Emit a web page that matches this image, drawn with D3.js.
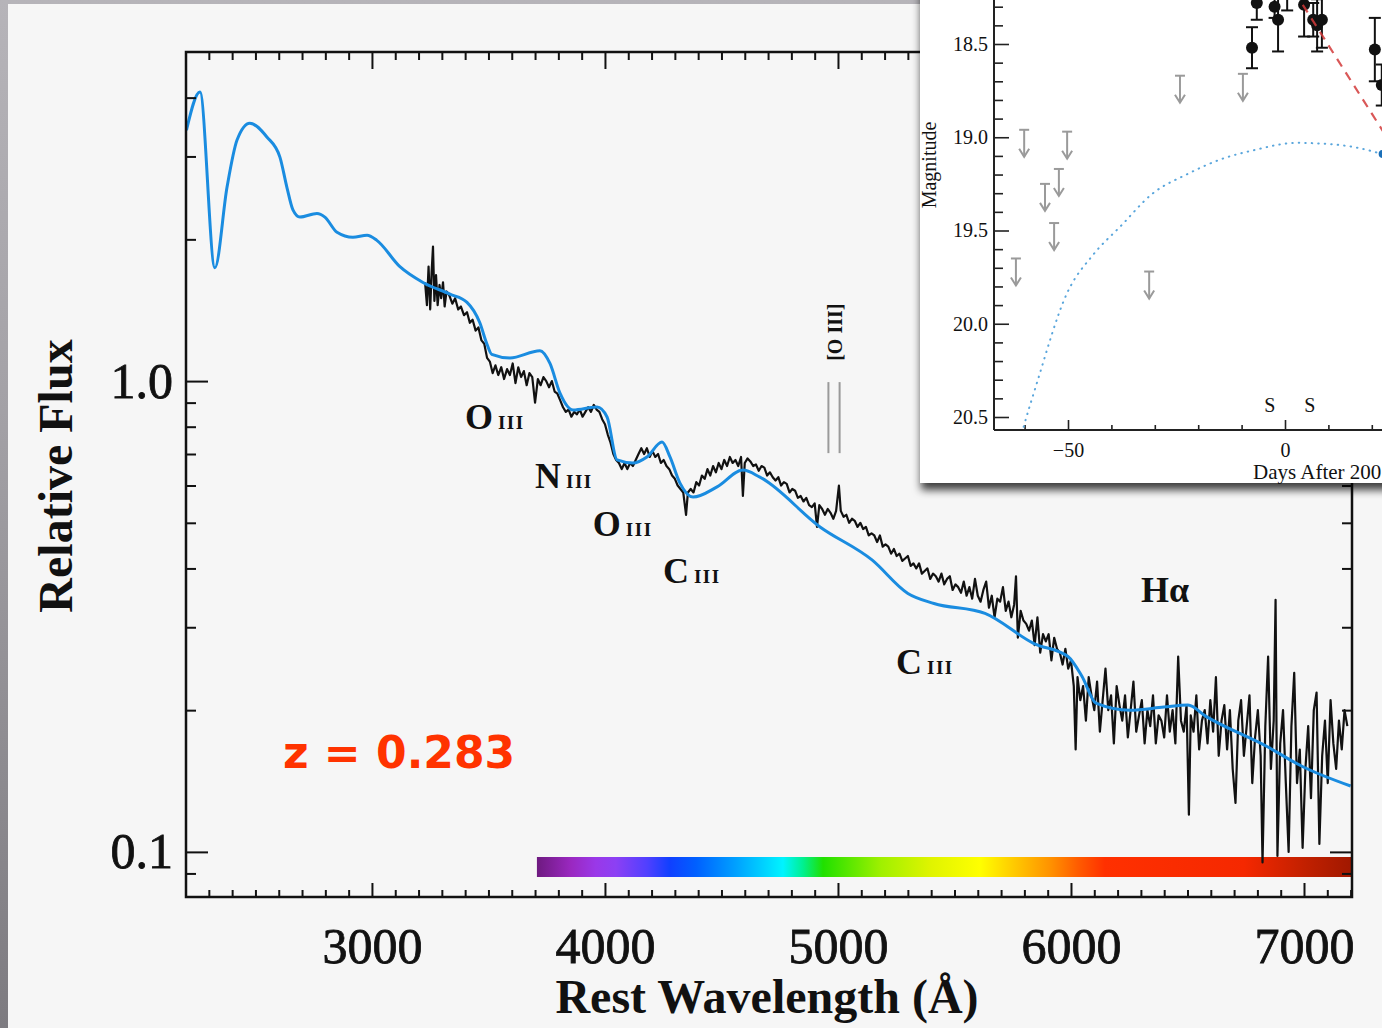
<!DOCTYPE html>
<html>
<head>
<meta charset="utf-8">
<script src="https://cdn.jsdelivr.net/npm/d3@7"></script>
<style>
html, body { margin: 0; padding: 0; background: #f6f6f6; overflow: hidden; }
svg { display: block; }
</style>
</head>
<body>
<div id="chart"></div>
<script>
// ---- Spectrum: smooth model (blue), wavelength in Angstrom / relative flux
var modelWave = [2204, 2262, 2326, 2378, 2421, 2476, 2549, 2605, 2635, 2661, 2691, 2764, 2798, 2850, 2918, 2979, 3021, 3120, 3219, 3335, 3408, 3463, 3493, 3514, 3592, 3721, 3764, 3807, 3863, 3966, 4009, 4052, 4120, 4180, 4245, 4279, 4322, 4378, 4481, 4592, 4665, 4923, 5146, 5300, 5412, 5631, 5841, 5987, 6047, 6107, 6253, 6399, 6502, 6579, 6845, 6991, 7200];
var modelFlux = [3.41, 4.11, 1.74, 2.58, 3.25, 3.53, 3.30, 2.99, 2.58, 2.31, 2.23, 2.27, 2.23, 2.07, 2.02, 2.04, 1.99, 1.75, 1.62, 1.53, 1.47, 1.33, 1.20, 1.14, 1.12, 1.16, 1.09, 0.943, 0.868, 0.881, 0.839, 0.680, 0.670, 0.690, 0.742, 0.690, 0.607, 0.567, 0.596, 0.647, 0.625, 0.490, 0.417, 0.354, 0.337, 0.321, 0.277, 0.260, 0.236, 0.207, 0.200, 0.203, 0.205, 0.194, 0.167, 0.152, 0.138];

// ---- Observed spectrum (black), [wavelength, flux]
var obsSpectrum = [
  [3228, 1.62], [3236, 1.45], [3243, 1.75], [3250, 1.42], [3256, 1.70], [3262, 1.93], [3268, 1.48], [3275, 1.68],
  [3282, 1.45], [3290, 1.60], [3297, 1.50], [3305, 1.62], [3312, 1.44], [3320, 1.55], [3332, 1.52], [3345, 1.46],
  [3357, 1.50], [3370, 1.42], [3382, 1.44], [3395, 1.38], [3408, 1.40], [3420, 1.33], [3432, 1.35], [3445, 1.28],
  [3457, 1.30], [3470, 1.22], [3482, 1.20], [3494, 1.12], [3506, 1.10], [3518, 1.04], [3530, 1.08], [3542, 1.03],
  [3555, 1.07], [3567, 1.01], [3580, 1.06], [3592, 1.03], [3604, 1.09], [3616, 0.99], [3628, 1.07], [3640, 1.02],
  [3652, 1.05], [3664, 0.98], [3676, 1.04], [3688, 1.02], [3700, 0.90], [3712, 1.01], [3724, 0.98], [3736, 1.02],
  [3748, 1.00], [3760, 0.97], [3772, 1.00], [3784, 0.95], [3796, 0.94], [3808, 0.91], [3820, 0.88], [3832, 0.86],
  [3844, 0.87], [3856, 0.84], [3868, 0.86], [3880, 0.85], [3892, 0.87], [3904, 0.84], [3916, 0.86], [3928, 0.88],
  [3940, 0.86], [3952, 0.89], [3964, 0.87], [3976, 0.86], [3988, 0.83], [4000, 0.81], [4012, 0.77], [4024, 0.74],
  [4036, 0.70], [4048, 0.68], [4060, 0.67], [4072, 0.65], [4084, 0.67], [4096, 0.65], [4108, 0.67], [4120, 0.66],
  [4132, 0.68], [4144, 0.70], [4156, 0.72], [4168, 0.70], [4180, 0.72], [4192, 0.69], [4204, 0.71], [4216, 0.69],
  [4228, 0.70], [4240, 0.67], [4252, 0.68], [4264, 0.66], [4276, 0.65], [4288, 0.63], [4300, 0.62], [4312, 0.60],
  [4324, 0.59], [4336, 0.58], [4348, 0.52], [4356, 0.58], [4368, 0.59], [4380, 0.58], [4392, 0.61], [4404, 0.60],
  [4416, 0.63], [4428, 0.62], [4440, 0.65], [4452, 0.63], [4464, 0.66], [4476, 0.64], [4488, 0.67], [4500, 0.65],
  [4512, 0.68], [4524, 0.66], [4536, 0.69], [4548, 0.67], [4560, 0.68], [4572, 0.66], [4584, 0.69], [4592, 0.57],
  [4600, 0.67], [4612, 0.685], [4624, 0.675], [4636, 0.66], [4648, 0.665], [4660, 0.645], [4672, 0.66], [4684, 0.655],
  [4696, 0.63], [4708, 0.64], [4720, 0.625], [4732, 0.615], [4744, 0.625], [4756, 0.60], [4768, 0.61], [4780, 0.605],
  [4792, 0.58], [4804, 0.59], [4816, 0.585], [4828, 0.565], [4840, 0.57], [4852, 0.555], [4864, 0.565], [4876, 0.545],
  [4888, 0.54], [4900, 0.55], [4910, 0.49], [4920, 0.545], [4932, 0.535], [4944, 0.52], [4956, 0.535], [4968, 0.525],
  [4980, 0.51], [4992, 0.53], [5004, 0.60], [5012, 0.53], [5024, 0.515], [5036, 0.52], [5048, 0.50], [5060, 0.51],
  [5072, 0.505], [5084, 0.49], [5096, 0.50], [5108, 0.485], [5120, 0.49], [5132, 0.47], [5144, 0.475], [5156, 0.47],
  [5168, 0.455], [5180, 0.47], [5192, 0.445], [5204, 0.45], [5216, 0.445], [5228, 0.43], [5240, 0.44], [5252, 0.425],
  [5264, 0.43], [5276, 0.415], [5288, 0.42], [5300, 0.425], [5312, 0.405], [5324, 0.41], [5336, 0.40], [5348, 0.41],
  [5360, 0.39], [5372, 0.395], [5384, 0.40], [5396, 0.38], [5408, 0.39], [5420, 0.385], [5432, 0.375], [5444, 0.39],
  [5456, 0.37], [5468, 0.38], [5480, 0.385], [5492, 0.36], [5504, 0.37], [5516, 0.365], [5528, 0.355], [5540, 0.375],
  [5552, 0.35], [5564, 0.365], [5576, 0.345], [5588, 0.38], [5600, 0.35], [5612, 0.34], [5624, 0.36], [5636, 0.375],
  [5648, 0.33], [5660, 0.35], [5672, 0.315], [5684, 0.345], [5696, 0.34], [5708, 0.365], [5720, 0.325], [5732, 0.34],
  [5744, 0.315], [5756, 0.335], [5764, 0.385], [5772, 0.285], [5784, 0.325], [5796, 0.31], [5808, 0.305], [5820, 0.295],
  [5832, 0.31], [5844, 0.275], [5856, 0.315], [5868, 0.265], [5880, 0.29], [5892, 0.28], [5904, 0.29], [5916, 0.255],
  [5928, 0.285], [5940, 0.27], [5952, 0.265], [5964, 0.25], [5976, 0.27], [5988, 0.245], [6000, 0.255], [6012, 0.225],
  [6020, 0.165], [6028, 0.235], [6040, 0.21], [6052, 0.225], [6064, 0.19], [6076, 0.235], [6088, 0.215], [6100, 0.20],
  [6112, 0.23], [6124, 0.18], [6136, 0.21], [6148, 0.245], [6160, 0.20], [6172, 0.215], [6184, 0.17], [6196, 0.225],
  [6208, 0.205], [6220, 0.19], [6232, 0.215], [6244, 0.175], [6256, 0.20], [6268, 0.23], [6280, 0.18], [6292, 0.195],
  [6304, 0.21], [6316, 0.17], [6328, 0.20], [6340, 0.185], [6352, 0.215], [6364, 0.17], [6376, 0.195], [6388, 0.19],
  [6400, 0.175], [6412, 0.215], [6424, 0.18], [6436, 0.20], [6448, 0.17], [6460, 0.26], [6472, 0.19], [6484, 0.18],
  [6496, 0.205], [6506, 0.12], [6514, 0.195], [6526, 0.18], [6538, 0.215], [6550, 0.165], [6562, 0.19], [6574, 0.20],
  [6586, 0.17], [6598, 0.21], [6610, 0.18], [6622, 0.235], [6634, 0.16], [6646, 0.19], [6658, 0.205], [6670, 0.165],
  [6682, 0.20], [6694, 0.15], [6706, 0.127], [6718, 0.19], [6730, 0.21], [6742, 0.16], [6754, 0.185], [6766, 0.215],
  [6778, 0.14], [6790, 0.175], [6802, 0.20], [6814, 0.16], [6822, 0.095], [6834, 0.185], [6846, 0.26], [6858, 0.15],
  [6870, 0.19], [6878, 0.343], [6886, 0.098], [6898, 0.17], [6910, 0.20], [6922, 0.14], [6934, 0.10], [6946, 0.185],
  [6958, 0.24], [6970, 0.14], [6982, 0.165], [6994, 0.102], [7006, 0.15], [7018, 0.185], [7030, 0.13], [7042, 0.20],
  [7054, 0.218], [7066, 0.104], [7078, 0.16], [7090, 0.19], [7102, 0.14], [7114, 0.21], [7126, 0.17], [7138, 0.15],
  [7150, 0.19], [7162, 0.165], [7174, 0.20], [7186, 0.185]
];

// ---- Axis ticks
var xMajor = [3000, 4000, 5000, 6000, 7000];
var yMajor = [0.1, 1.0];
var yMinor = [0.09, 0.2, 0.3, 0.4, 0.5, 0.6, 0.7, 0.8, 0.9, 2, 3, 4];

// ---- Line identifications [label, roman, wavelength, flux] (text anchor position)
var lineIds = [
  ["O", "III", 3399, 0.791],
  ["N", "III", 3700, 0.593],
  ["O", "III", 3948, 0.469],
  ["C", "III", 4249, 0.372],
  ["C", "III", 5249, 0.239],
  ["H\u03b1", "", 6300, 0.339]
];
var oiiiWave = [4959, 5007];

// ---- Visible spectrum colour bar (wavelength -> colour)
var barWave = [3708, 3854, 3960, 4047, 4181, 4279, 4391, 4560, 4764, 4850, 4936, 5185, 5400, 5610, 5760, 5916, 6030, 6146, 6742, 7013, 7206];
var barColor = ["#6e1a80", "#9a28c0", "#9a38e8", "#8c40f4", "#5040ff", "#1040ff", "#0060ff", "#00a0ff", "#00f4ff", "#00f090", "#20e000", "#a0f000", "#e0f400", "#ffff00", "#ffc800", "#ff9000", "#ff5c00", "#ff3000", "#f52800", "#c02000", "#a01800"];

// ---- Inset light curve
var detDays = [-7.6, -6.5, -2.4, -1.6, 0.5, 4.4, 6.5, 7.4, 8.5, 20.7, 22.3];
var detMag  = [18.52, 18.28, 18.30, 18.37, 18.20, 18.29, 18.37, 18.40, 18.37, 18.53, 18.72];
var detErr  = [0.11, 0.09, 0.06, 0.17, 0.12, 0.17, 0.09, 0.14, 0.15, 0.17, 0.11];
var limDays = [-62.0, -60.1, -55.3, -53.2, -52.1, -50.2, -31.3, -24.2, -9.7];
var limMag  = [19.65, 18.96, 19.25, 19.46, 19.17, 18.97, 19.72, 18.67, 18.66];
var fitDays = [-61.0, -60.3, -57.2, -50.3, -44.2, -38.0, -30.4, -22.7, -15.0, -7.3, 2.7, 11.9, 22.3, 30.0];
var fitMag  = [20.62, 20.56, 20.32, 19.84, 19.63, 19.48, 19.30, 19.20, 19.12, 19.07, 19.03, 19.04, 19.09, 19.16];
var declineDays = [4.1, 30.0];
var declineMag  = [18.29, 19.24];
var blueDays = [22.5];
var blueMag  = [19.09];
var specDays = [-3.5, 5.7];

var W = 1382, H = 1028;
var serif = "'Liberation Serif', 'Times New Roman', serif";

var svg = d3.select("#chart").append("svg")
    .attr("width", W)
    .attr("height", H);

var defs = svg.append("defs");

// slide frame
var bg = defs.append("linearGradient").attr("id", "frameGrad")
    .attr("x1", 0).attr("y1", 0).attr("x2", 0).attr("y2", 1);
bg.append("stop").attr("offset", "0%").attr("stop-color", "#b6b4b9");
bg.append("stop").attr("offset", "40%").attr("stop-color", "#a3a1a6");
bg.append("stop").attr("offset", "100%").attr("stop-color", "#7d7b80");
svg.append("rect").attr("width", W).attr("height", H).attr("fill", "url(#frameGrad)");
svg.append("rect").attr("x", 8).attr("y", 4).attr("width", W).attr("height", H).attr("fill", "#f6f6f6");

// ---- Main scales
var x = d3.scaleLinear().domain([2202, 7206]).range([186, 1352]);
var y = d3.scaleLog().domain([0.0802, 5.0]).range([897, 52]);

defs.append("clipPath").attr("id", "plotClip")
    .append("rect").attr("x", 186).attr("y", 52).attr("width", 1166).attr("height", 845);

// colour bar
var grad = defs.append("linearGradient").attr("id", "barGrad")
    .attr("x1", 0).attr("y1", 0).attr("x2", 1).attr("y2", 0);
barWave.forEach(function (w, i) {
    grad.append("stop")
        .attr("offset", (w - barWave[0]) / (barWave[barWave.length - 1] - barWave[0]))
        .attr("stop-color", barColor[i]);
});
svg.append("rect")
    .attr("x", x(barWave[0]))
    .attr("y", 857)
    .attr("width", x(barWave[barWave.length - 1]) - x(barWave[0]))
    .attr("height", 20)
    .attr("fill", "url(#barGrad)");

var plot = svg.append("g").attr("clip-path", "url(#plotClip)");

// observed spectrum
var obsLine = d3.line()
    .x(function (d) { return x(d[0]); })
    .y(function (d) { return y(d[1]); });
plot.append("path")
    .datum(obsSpectrum)
    .attr("d", obsLine)
    .attr("fill", "none")
    .attr("stroke", "#111")
    .attr("stroke-width", 2.2)
    .attr("stroke-linejoin", "round");

// model spectrum
var modelLine = d3.line()
    .x(function (d) { return x(d[0]); })
    .y(function (d) { return y(d[1]); })
    .curve(d3.curveMonotoneX);
plot.append("path")
    .datum(d3.zip(modelWave, modelFlux))
    .attr("d", modelLine)
    .attr("fill", "none")
    .attr("stroke", "#1a8ce0")
    .attr("stroke-width", 3);

// ---- Axes (ticks drawn inward on all four sides)
function styleAxis(g) {
    g.select(".domain").remove();
    g.selectAll(".tick line").attr("stroke", "#111").attr("stroke-width", 2);
    g.selectAll(".tick text")
        .attr("font-family", serif)
        .attr("font-size", 50)
        .attr("fill", "#111")
        .attr("stroke", "#111")
        .attr("stroke-width", 0.8);
}

var xMinor = d3.range(2300, 7201, 100).filter(function (v) { return v % 1000 !== 0; });

svg.append("g").attr("transform", "translate(0,897)")
    .call(d3.axisBottom(x).tickValues(xMinor).tickSize(-7).tickFormat(""))
    .call(styleAxis);
svg.append("g").attr("transform", "translate(0,897)")
    .call(d3.axisBottom(x).tickValues(xMajor).tickSize(-14).tickPadding(30).tickFormat(d3.format("d")))
    .call(styleAxis);
svg.append("g").attr("transform", "translate(0,52)")
    .call(d3.axisTop(x).tickValues(xMinor).tickSize(-8).tickFormat(""))
    .call(styleAxis);
svg.append("g").attr("transform", "translate(0,52)")
    .call(d3.axisTop(x).tickValues(xMajor).tickSize(-17).tickFormat(""))
    .call(styleAxis);

svg.append("g").attr("transform", "translate(186,0)")
    .call(d3.axisLeft(y).tickValues(yMinor).tickSize(-10).tickFormat(""))
    .call(styleAxis);
svg.append("g").attr("transform", "translate(186,0)")
    .call(d3.axisLeft(y).tickValues(yMajor).tickSize(-22).tickPadding(13).tickFormat(d3.format(".1f")))
    .call(styleAxis);
svg.append("g").attr("transform", "translate(1352,0)")
    .call(d3.axisRight(y).tickValues(yMinor).tickSize(-10).tickFormat(""))
    .call(styleAxis);
svg.append("g").attr("transform", "translate(1352,0)")
    .call(d3.axisRight(y).tickValues(yMajor).tickSize(-22).tickFormat(""))
    .call(styleAxis);

svg.append("rect")
    .attr("x", 186).attr("y", 52).attr("width", 1166).attr("height", 845)
    .attr("fill", "none").attr("stroke", "#111").attr("stroke-width", 2.5);

// axis titles
svg.append("text")
    .attr("transform", "translate(72,476) rotate(-90)")
    .attr("text-anchor", "middle")
    .attr("font-family", serif).attr("font-weight", "bold").attr("font-size", 48)
    .attr("fill", "#111")
    .text("Relative Flux");
svg.append("text")
    .attr("x", 767).attr("y", 1013)
    .attr("text-anchor", "middle")
    .attr("font-family", serif).attr("font-weight", "bold").attr("font-size", 48)
    .attr("fill", "#111")
    .text("Rest Wavelength (\u00c5)");

// line identifications
lineIds.forEach(function (d) {
    var t = svg.append("text")
        .attr("x", x(d[2])).attr("y", y(d[3]))
        .attr("font-family", serif).attr("font-weight", "bold").attr("font-size", 36)
        .attr("fill", "#111")
        .text(d[0]);
    if (d[1]) {
        t.append("tspan")
            .attr("dx", 5)
            .attr("font-size", 19)
            .attr("letter-spacing", 1.5)
            .text(d[1]);
    }
});

// [O III] markers
oiiiWave.forEach(function (w) {
    svg.append("line")
        .attr("x1", x(w)).attr("x2", x(w))
        .attr("y1", y(0.995)).attr("y2", y(0.703))
        .attr("stroke", "#9a9a9a").attr("stroke-width", 2);
});
svg.append("text")
    .attr("transform", "translate(" + x(5017) + "," + y(1.27) + ") rotate(-90)")
    .attr("text-anchor", "middle")
    .attr("font-family", serif).attr("font-weight", "bold").attr("font-size", 20)
    .attr("fill", "#111")
    .text("[O III]");

// redshift
svg.append("text")
    .attr("x", x(2618)).attr("y", y(0.151))
    .attr("font-family", "'DejaVu Sans', sans-serif").attr("font-weight", "bold").attr("font-size", 44)
    .attr("fill", "#ff3300")
    .text("z = 0.283");

// ---- Inset light curve
var shadow = defs.append("filter").attr("id", "insetShadow")
    .attr("x", "-10%").attr("y", "-10%").attr("width", "130%").attr("height", "130%");
shadow.append("feDropShadow")
    .attr("dx", 1).attr("dy", 7).attr("stdDeviation", 4)
    .attr("flood-color", "#000").attr("flood-opacity", 0.75);

var inset = svg.append("g");
inset.append("rect")
    .attr("x", 920).attr("y", -30).attr("width", 520).attr("height", 513)
    .attr("fill", "#ffffff")
    .attr("filter", "url(#insetShadow)");

var ix = d3.scaleLinear().domain([-50, 0]).range([1068, 1285]);
var iy = d3.scaleLinear().domain([18.5, 20.5]).range([44, 417]);

defs.append("clipPath").attr("id", "insetClip")
    .append("rect").attr("x", 994).attr("y", 0).attr("width", 400).attr("height", 430);

function styleInsetAxis(g) {
    g.select(".domain").remove();
    g.selectAll(".tick line").attr("stroke", "#222").attr("stroke-width", 1.6);
    g.selectAll(".tick text")
        .attr("font-family", serif)
        .attr("font-size", 20)
        .attr("fill", "#111");
}

var iyMinor = [18.3, 18.4, 18.6, 18.7, 18.8, 18.9, 19.1, 19.2, 19.3, 19.4, 19.6, 19.7, 19.8, 19.9, 20.1, 20.2, 20.3, 20.4];
var ixMinor = [-60, -40, -30, -20, -10, 10, 20];

inset.append("g").attr("transform", "translate(994,0)")
    .call(d3.axisLeft(iy).tickValues(iyMinor).tickSize(-9).tickFormat(""))
    .call(styleInsetAxis);
inset.append("g").attr("transform", "translate(994,0)")
    .call(d3.axisLeft(iy).tickValues([18.5, 19.0, 19.5, 20.0, 20.5]).tickSize(-15).tickPadding(6).tickFormat(d3.format(".1f")))
    .call(styleInsetAxis);
inset.append("g").attr("transform", "translate(0,430)")
    .call(d3.axisBottom(ix).tickValues(ixMinor).tickSize(-5).tickFormat(""))
    .call(styleInsetAxis);
inset.append("g").attr("transform", "translate(0,430)")
    .call(d3.axisBottom(ix).tickValues([-50, 0]).tickSize(-10).tickPadding(13)
        .tickFormat(function (d) { return d < 0 ? "\u2212" + Math.abs(d) : d; }))
    .call(styleInsetAxis);

inset.append("line").attr("x1", 994).attr("x2", 994).attr("y1", 0).attr("y2", 430)
    .attr("stroke", "#222").attr("stroke-width", 2);
inset.append("line").attr("x1", 994).attr("x2", W).attr("y1", 430).attr("y2", 430)
    .attr("stroke", "#222").attr("stroke-width", 2);

var ip = inset.append("g").attr("clip-path", "url(#insetClip)");

// model light curve (dotted)
ip.append("path")
    .datum(d3.zip(fitDays, fitMag))
    .attr("d", d3.line().x(function (d) { return ix(d[0]); }).y(function (d) { return iy(d[1]); }).curve(d3.curveMonotoneX))
    .attr("fill", "none")
    .attr("stroke", "#5aa6dc")
    .attr("stroke-width", 2)
    .attr("stroke-linecap", "round")
    .attr("stroke-dasharray", "0.5,6");

// upper limits
limDays.forEach(function (dday, i) {
    var cx = ix(dday), top = iy(limMag[i]), tip = top + 27;
    var g = ip.append("g").attr("stroke", "#9a9a9a").attr("stroke-width", 2).attr("fill", "none");
    g.append("line").attr("x1", cx - 5).attr("x2", cx + 5).attr("y1", top).attr("y2", top);
    g.append("line").attr("x1", cx).attr("x2", cx).attr("y1", top).attr("y2", tip);
    g.append("path").attr("d", "M" + (cx - 5) + "," + (tip - 8) + "L" + cx + "," + tip + "L" + (cx + 5) + "," + (tip - 8));
});

// detections with error bars
detDays.forEach(function (dday, i) {
    var cx = ix(dday), y0 = iy(detMag[i] - detErr[i]), y1 = iy(detMag[i] + detErr[i]);
    var g = ip.append("g").attr("stroke", "#111").attr("stroke-width", 2);
    g.append("line").attr("x1", cx).attr("x2", cx).attr("y1", y0).attr("y2", y1);
    g.append("line").attr("x1", cx - 6).attr("x2", cx + 6).attr("y1", y0).attr("y2", y0);
    g.append("line").attr("x1", cx - 6).attr("x2", cx + 6).attr("y1", y1).attr("y2", y1);
    ip.append("circle").attr("cx", cx).attr("cy", iy(detMag[i])).attr("r", 6).attr("fill", "#111");
});

blueDays.forEach(function (dday, i) {
    ip.append("circle").attr("cx", ix(dday)).attr("cy", iy(blueMag[i])).attr("r", 4).attr("fill", "#1a6fb8");
});

// decline fit
ip.append("path")
    .datum(d3.zip(declineDays, declineMag))
    .attr("d", d3.line().x(function (d) { return ix(d[0]); }).y(function (d) { return iy(d[1]); }))
    .attr("fill", "none")
    .attr("stroke", "#d23a3a")
    .attr("stroke-opacity", 0.85)
    .attr("stroke-width", 2.2)
    .attr("stroke-dasharray", "9,7");

// spectrum epochs
specDays.forEach(function (dday) {
    inset.append("text")
        .attr("x", ix(dday)).attr("y", 412)
        .attr("text-anchor", "middle")
        .attr("font-family", serif).attr("font-size", 20).attr("fill", "#111")
        .text("S");
});

inset.append("text")
    .attr("transform", "translate(936,165) rotate(-90)")
    .attr("text-anchor", "middle")
    .attr("font-family", serif).attr("font-size", 20).attr("fill", "#111")
    .text("Magnitude");
inset.append("text")
    .attr("x", 1253).attr("y", 479)
    .attr("font-family", serif).attr("font-size", 21).attr("fill", "#111")
    .text("Days After 200");
</script>
</body>
</html>
